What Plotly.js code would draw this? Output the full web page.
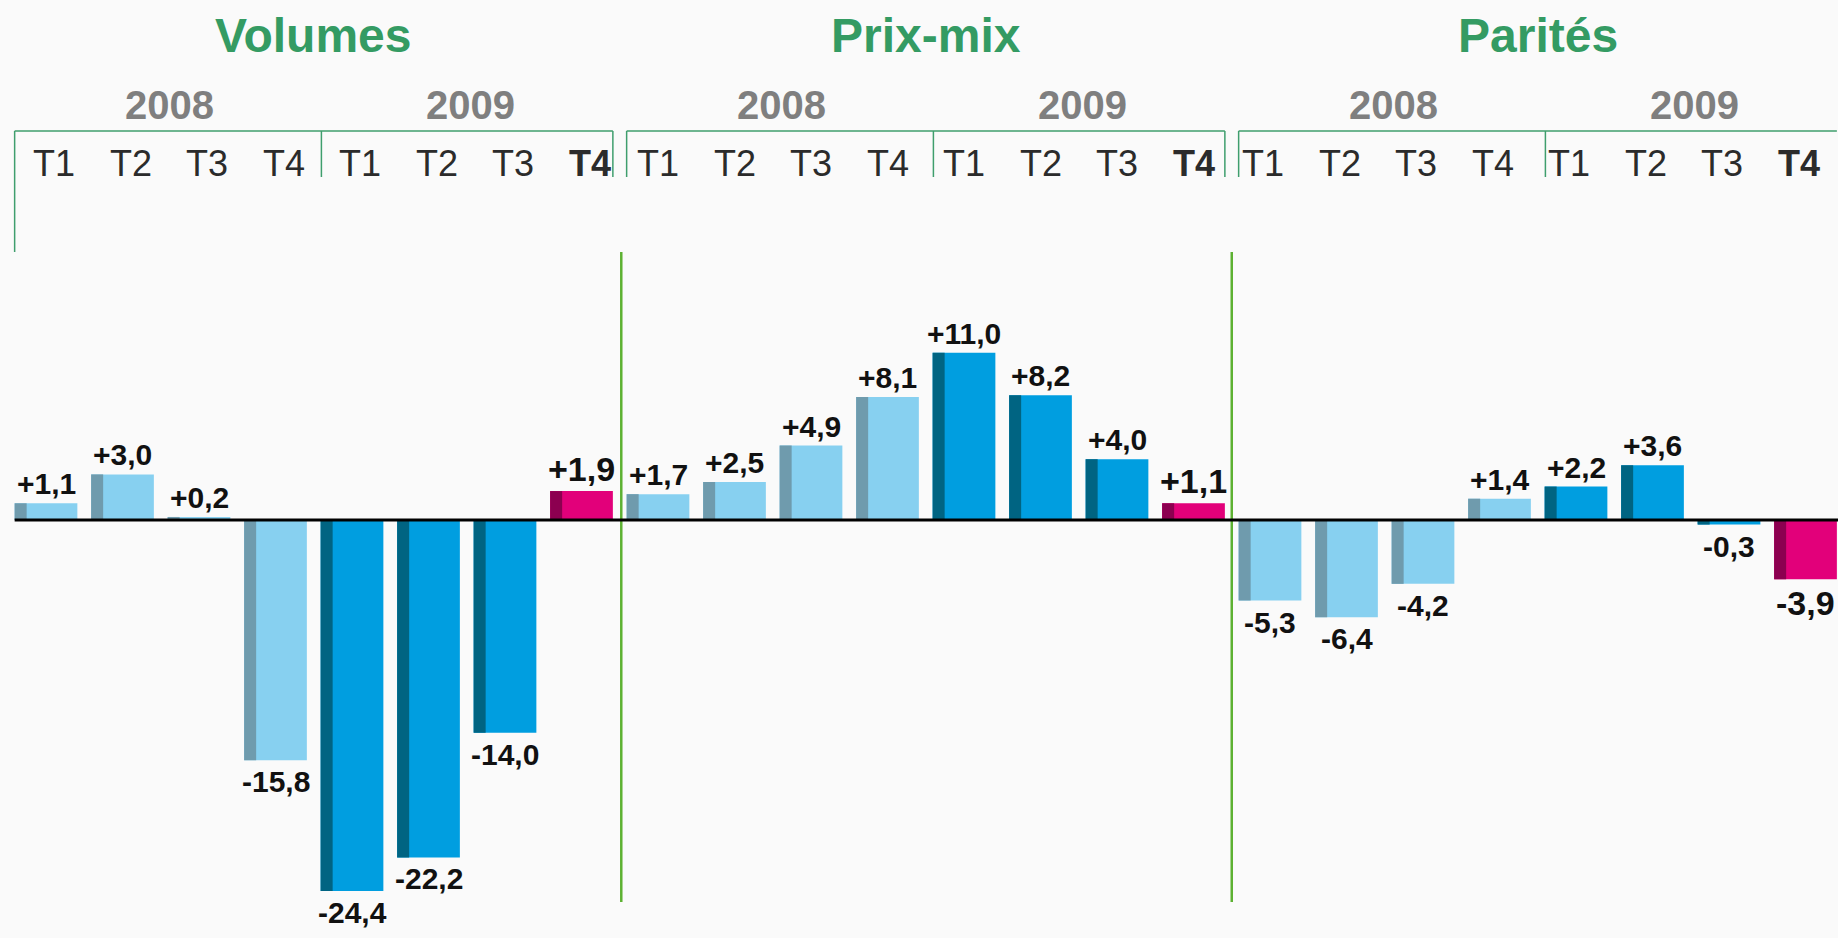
<!DOCTYPE html>
<html>
<head>
<meta charset="utf-8">
<script src="https://cdn.plot.ly/plotly-3.0.1.min.js"></script>
<style>
  html, body { margin: 0; padding: 0; background: #fafafa; }
  #chart { width: 1838px; height: 938px; }
</style>
</head>
<body>
<div id="chart"></div>
<script>
// ---- Data ----
const groups = ["Volumes", "Prix-mix", "Parités"];
const years = ["2008", "2009"];
const quarters = ["T1", "T2", "T3", "T4", "T1", "T2", "T3", "T4"];
const volumes = [1.1, 3.0, 0.2, -15.8, -24.4, -22.2, -14.0, 1.9];
const prixMix = [1.7, 2.5, 4.9, 8.1, 11.0, 8.2, 4.0, 1.1];
const parites = [-5.3, -6.4, -4.2, 1.4, 2.2, 3.6, -0.3, -3.9];

// ---- Styles ----
const FONT = "Liberation Sans, Arial, sans-serif";
const GREEN_TITLE = "#349b63";
const BRACKET = "#3f9e6d";
const DIVIDER = "#5db132";
const colMain = { y2008: "#87d0f0", y2009: "#009ee0", last: "#e2007a" };
const colStrip = { y2008: "#6f9bad", y2009: "#006482", last: "#8c0050" };
const quarterShift = [8, 0, -7];

const series = [volumes, prixMix, parites];
const xs = [], ys = [], mainColors = [], stripColors = [];
series.forEach((arr, g) => {
  arr.forEach((v, i) => {
    const x = g * 8 + i;
    xs.push(x); ys.push(v);
    const key = i < 4 ? "y2008" : (i === 7 ? "last" : "y2009");
    mainColors.push(colMain[key]);
    stripColors.push(colStrip[key]);
  });
});

const BW = 0.82, SW = 0.157;
const traces = [
  { type: "bar", x: xs, y: ys, width: BW, offset: -BW / 2,
    marker: { color: mainColors, line: { width: 0 } }, hoverinfo: "skip" },
  { type: "bar", x: xs, y: ys, width: SW, offset: -BW / 2,
    marker: { color: stripColors, line: { width: 0 } }, hoverinfo: "skip" }
];

const fmt = v => (v > 0 ? "+" : "") + v.toFixed(1).replace(".", ",");
const pxToPaper = p => 1 - p / 938;

const annotations = [];
const shapes = [];

// value labels
xs.forEach((x, k) => {
  const v = ys[k];
  const isLast = (k % 8) === 7;
  annotations.push({
    x: x, y: v, xref: "x", yref: "y", text: "<b>" + fmt(v) + "</b>",
    showarrow: false, yanchor: v >= 0 ? "bottom" : "top",
    yshift: v >= 0 ? 1 : -3,
    font: { family: FONT, size: isLast ? 34 : 30, color: "#111" }
  });
});

groups.forEach((name, g) => {
  const base = g * 8;
  const left = base - 0.41, mid = base + 3.6, right = base + 7.41;
  // group title
  annotations.push({
    x: base + 3.5, y: pxToPaper(35), xref: "x", yref: "paper", text: "<b>" + name + "</b>",
    showarrow: false, yanchor: "middle", font: { family: FONT, size: 48, color: GREEN_TITLE }
  });
  // years
  annotations.push({
    x: (left + mid) / 2 + 0.02, y: pxToPaper(105), xref: "x", yref: "paper", text: "<b>" + years[0] + "</b>",
    showarrow: false, yanchor: "middle", font: { family: FONT, size: 40, color: "#7f7f7f" }
  });
  annotations.push({
    x: (mid + right) / 2 + 0.05, y: pxToPaper(105), xref: "x", yref: "paper", text: "<b>" + years[1] + "</b>",
    showarrow: false, yanchor: "middle", font: { family: FONT, size: 40, color: "#7f7f7f" }
  });
  // quarters
  quarters.forEach((q, i) => {
    annotations.push({
      x: base + i, y: pxToPaper(164), xref: "x", yref: "paper", xshift: quarterShift[g],
      text: i === 7 ? "<b>" + q + "</b>" : q,
      showarrow: false, yanchor: "middle", font: { family: FONT, size: 36, color: "#2b2b2b" }
    });
  });
  // bracket lines
  const yTop = pxToPaper(131), yBot = pxToPaper(177);
  const ln = { color: BRACKET, width: 1.5 };
  shapes.push({ type: "line", xref: "x", yref: "paper", x0: left, x1: right, y0: yTop, y1: yTop, line: ln });
  shapes.push({ type: "line", xref: "x", yref: "paper", x0: left, x1: left, y0: yTop,
                y1: g === 0 ? pxToPaper(252) : yBot, line: ln });
  shapes.push({ type: "line", xref: "x", yref: "paper", x0: mid, x1: mid, y0: yTop, y1: yBot, line: ln });
  if (g < 2) shapes.push({ type: "line", xref: "x", yref: "paper", x0: right, x1: right, y0: yTop, y1: yBot, line: ln });
});

// dividers between panels
[7.52, 15.5].forEach(x => {
  shapes.push({ type: "line", xref: "x", yref: "paper", x0: x, x1: x,
                y0: pxToPaper(252), y1: pxToPaper(902), line: { color: DIVIDER, width: 2.5 }, layer: "above" });
});
// zero baseline
shapes.push({ type: "line", xref: "x", yref: "y", x0: -0.41, x1: 24, y0: 0, y1: 0,
              line: { color: "#000", width: 3 }, layer: "above" });

const PXU = 15.2;
const layout = {
  width: 1838, height: 938,
  margin: { l: 0, r: 0, t: 0, b: 0 },
  paper_bgcolor: "#fafafa", plot_bgcolor: "#fafafa",
  barmode: "overlay", showlegend: false,
  xaxis: { range: [-46 / 76.5, -46 / 76.5 + 1838 / 76.5], visible: false, fixedrange: true },
  yaxis: { range: [-418 / PXU, 520 / PXU], visible: false, fixedrange: true },
  annotations: annotations, shapes: shapes
};

Plotly.newPlot("chart", traces, layout, { staticPlot: true, displayModeBar: false });
</script>
</body>
</html>
